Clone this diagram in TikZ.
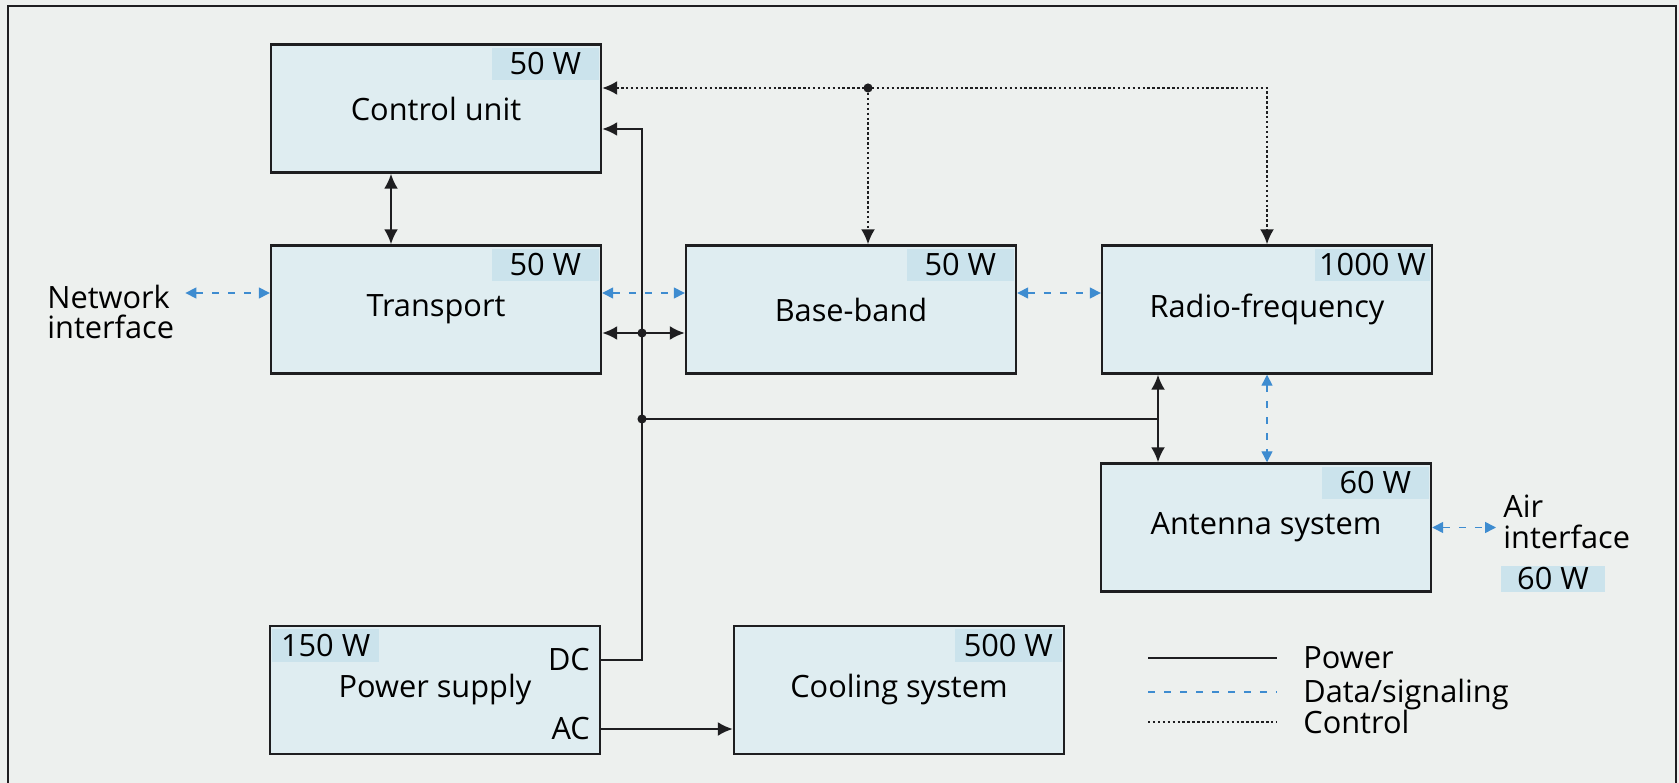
\documentclass[tikz,border=0pt]{standalone}
\usepackage{fontspec}
\setmainfont{Open Sans}
\usetikzlibrary{arrows.meta,calc,positioning}
\definecolor{paper}{RGB}{237,240,238}
\definecolor{boxfill}{RGB}{223,237,241}
\definecolor{wattfill}{RGB}{203,227,236}
\definecolor{datablue}{RGB}{62,140,208}
\definecolor{ink}{RGB}{30,30,32}
\newcommand\blockfont{\fontsize{17.5}{17.6}\selectfont}
\tikzset{
    unit/.style={
        draw=ink, line width=1.4pt, fill=boxfill,
        minimum width=6.6cm, minimum height=2.56cm,
        inner sep=0pt, font=\blockfont
    },
    watt/.style={
        fill=wattfill, inner xsep=0.08cm, inner ysep=0.1cm,
        minimum width=2.14cm, font=\blockfont
    },
    txt/.style={inner sep=0pt, font=\blockfont, align=left},
    ptip/.tip={Latex[length=0.3cm,width=0.28cm]},
    dtip/.tip={Triangle[length=0.22cm,width=0.22cm]},
    power line/.style={draw=ink, line width=1.3pt},
    data line/.style={draw=datablue, line width=0.8pt, dash pattern=on 0.14cm off 0.18cm},
    control line/.style={draw=ink, line width=1.2pt, dash pattern=on 1.4pt off 1.4pt}
}

\begin{document}
\begin{tikzpicture}[x=0.02cm, y=-0.02cm]
                \fill[paper] (0,0) rectangle (1679,783);
                \useasboundingbox (0,0) rectangle (1679,783);
                \draw[ink, line width=1.2pt] (8,783) -- (8,6) -- (1676,6) -- (1676,783);

                \node[unit] (ctrl) at (436,108.5) {Control unit};
                \node[unit] (transport) at (436,309.5) {Transport};
                \node[unit] (baseband) at (851,309.5) {Base-band};
                \node[unit] (rf) at (1267,309.5) {Radio-frequency};
                \node[unit] (antenna) at (1266,527.5) {Antenna system};
                \node[unit] (psu) at (435,690) {Power supply};
                \node[unit] (cooling) at (899,690) {Cooling system};

                \node[watt, anchor=north east] (ctrlw) at ($(ctrl.north east)+(-3,4)$) {50 W};
                \node[watt, anchor=north east] (transportw) at ($(transport.north east)+(-3,4)$) {50 W};
                \node[watt, anchor=north east] (basebandw) at ($(baseband.north east)+(-3,4)$) {50 W};
                \node[watt, anchor=north east] (rfw) at ($(rf.north east)+(-3,4)$) {1000 W};
                \node[watt, anchor=north east] (antennaw) at ($(antenna.north east)+(-3,4)$) {60 W};
                \node[watt, anchor=north east] (coolingw) at ($(cooling.north east)+(-3,4)$) {500 W};
                \node[watt, anchor=north west] (psuw) at ($(psu.north west)+(3,4)$) {150 W};

                \node[txt, anchor=east] (dc) at ($(psu.east)+(-11,-30)$) {DC};
                \node[txt, anchor=east] (ac) at ($(psu.east)+(-11,39)$) {AC};

                \node[txt, anchor=west] (netif) at (47,312) {Network\\interface};
                \node[txt, anchor=west] (airif) at (1503,522) {Air\\interface};
                \node[watt, minimum width=2.08cm, inner ysep=0.04cm] (airw) at (1553,579) {60 W};

                \coordinate (cbus) at (868,88);
                \coordinate (dY) at (0,293);
                \coordinate (ctx) at (391,0);
                \coordinate (pctl) at (642,129);
                \coordinate (pjt) at (642,333);
                \coordinate (pjr) at (642,419);
                \coordinate (rfp) at (1158,419);

                % control
                \draw[control line, {ptip}-{ptip}] (ctrl.east |- cbus) -| (rf.north);
                \draw[control line, -{ptip}] (cbus) -- (baseband.north -| cbus);
                \fill[ink] (cbus) circle (2.6pt);

                % power
                \draw[power line, {ptip}-{ptip}] (ctrl.south -| ctx) -- (transport.north -| ctx);
                \draw[power line, -{ptip}] (psu.east |- dc) -| (pctl) -- (ctrl.east |- pctl);
                \draw[power line, {ptip}-{ptip}] (transport.east |- pjt) -- (baseband.west |- pjt);
                \draw[power line] (pjr) -- (rfp);
                \draw[power line, {ptip}-{ptip}] (rf.south -| rfp) -- (antenna.north -| rfp);
                \draw[power line, -{ptip}] (psu.east |- ac) -- (cooling.west |- ac);
                \fill[ink] (pjt) circle (2.6pt);
                \fill[ink] (pjr) circle (2.6pt);

                % data
                \draw[data line, {dtip}-{dtip}, shorten <=0.22cm] (netif.east |- dY) -- (transport.west |- dY);
                \draw[data line, {dtip}-{dtip}] (transport.east |- dY) -- (baseband.west |- dY);
                \draw[data line, {dtip}-{dtip}] (baseband.east |- dY) -- (rf.west |- dY);
                \draw[data line, {dtip}-{dtip}] (rf.south) -- (rf.south |- antenna.north);
                \draw[data line, {dtip}-{dtip}, shorten >=0.14cm] (antenna.east) -- (airif.west |- antenna.east);

                % legend
                \node[txt, anchor=base west] (lgpower) at (1303,668) {Power};
                \node[txt, anchor=base west] (lgdata) at (1303,702) {Data/signaling};
                \node[txt, anchor=base west] (lgcontrol) at (1303,733) {Control};
                \draw[power line] (1148,658) -- (1277,658);
                \draw[data line] (1148,692) -- (1277,692);
                \draw[control line] (1148,722) -- (1277,722);
\end{tikzpicture}
\end{document}
